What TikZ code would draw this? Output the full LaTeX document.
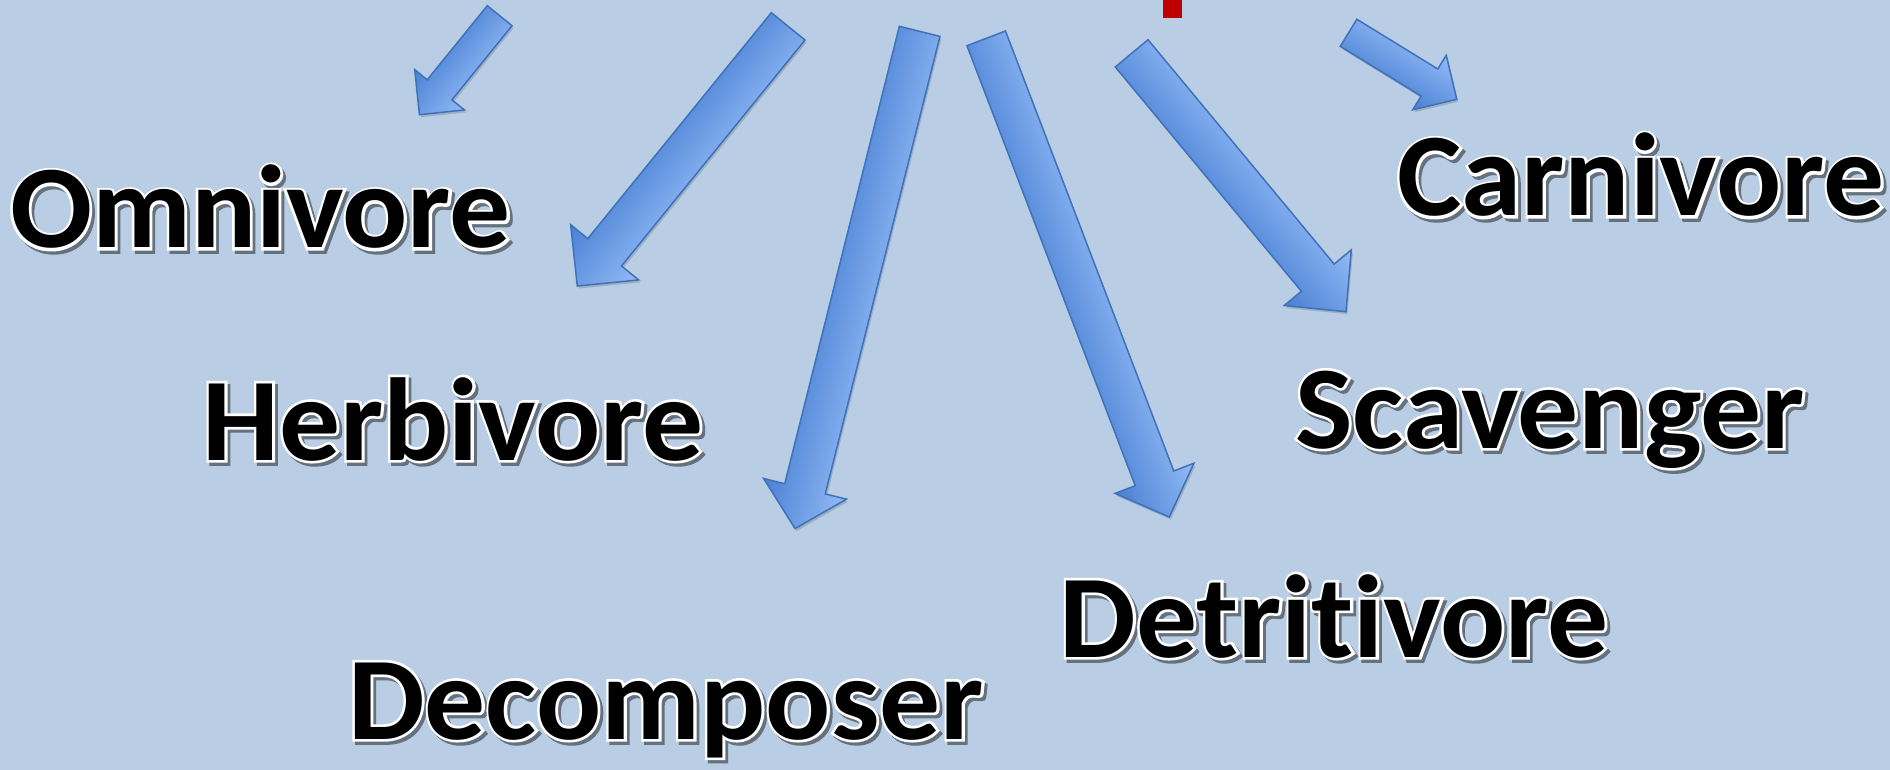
\documentclass[tikz,border=0pt]{standalone}
\usepackage{fontspec}
\newfontfamily\lblfont{Carlito Bold}[Ligatures=NoCommon,FakeStretch=1.03]
\newfontfamily\olfont{Carlito Bold}[Ligatures=NoCommon,FakeStretch=1.03,FakeBold=4.5]
\definecolor{bgc}{HTML}{B9CDE5}
\definecolor{arrowdark}{HTML}{4A80D2}
\definecolor{arrowlight}{HTML}{92BAF7}
\definecolor{arrowline}{HTML}{3F72B8}
\definecolor{redc}{HTML}{C00000}
\colorlet{shadowc}{bgc!55!black}
\newcommand\outl[1]{%
  \rlap{\kern1.4pt\raisebox{-1.6pt}{\olfont\color{shadowc}#1}}%
  \rlap{\olfont\color{white}#1}%
  #1}
\newcommand\blockarrow[7]{%
  \begin{scope}[transform canvas={shift={(#1+1.5,#2+2.5)},rotate=#3}]
    \fill[black,opacity=.15] (0,#5) -- (#4-#7,#5) -- (#4-#7,#6) -- (#4,0) -- (#4-#7,-#6) -- (#4-#7,-#5) -- (0,-#5) -- cycle;
  \end{scope}
  \begin{scope}[transform canvas={shift={(#1,#2)},rotate=#3}]
    \draw[arrowbox] (0,#5) -- (#4-#7,#5) -- (#4-#7,#6) -- (#4,0) -- (#4-#7,-#6) -- (#4-#7,-#5) -- (0,-#5) -- cycle;
  \end{scope}}
\tikzset{
  arrowbox/.style={draw=arrowline, line width=0.75pt, line join=miter, bottom color=arrowdark, top color=arrowlight},
  lbl/.style={anchor=base, inner sep=0pt, font=\lblfont\fontsize{59}{60}\selectfont, text=black}
}
\begin{document}
\begin{tikzpicture}[x=0.5pt,y=-0.5pt]
\useasboundingbox (0,0) rectangle (1890,770);
\fill[bgc] (0,0) rectangle (1890,770);
\fill[redc] (1163,0) rectangle (1182,18);
% block arrows: tail x, tail y, angle, length, shaft half width, head half width, head length
\blockarrow{499.65}{15.7}{-129.03}{127.4}{15.9}{32}{32}
\blockarrow{788.15}{26.35}{-129.08}{334.5}{21.7}{43.8}{43.4}
\blockarrow{919.65}{31.35}{-104.07}{512.6}{20.9}{42.7}{41}
\blockarrow{986.2}{38.35}{-69.07}{512.5}{20.6}{42.2}{41.4}
\blockarrow{1131.65}{53.35}{-50.32}{335.7}{21.3}{43.6}{44.2}
\blockarrow{1348.55}{32.8}{-31.59}{127}{15.9}{32}{32}
\node[lbl] (omnivore) at (260.5,248) {\outl{Omnivore}};
\node[lbl] (herbivore) at (453,460) {\outl{Herbivore}};
\node[lbl] (carnivore) at (1641,216) {\outl{Carnivore}};
\node[lbl] (scavenger) at (1550,448) {\outl{Scavenger}};
\node[lbl] (detritivore) at (1334,657) {\outl{Detritivore}};
\node[lbl] (decomposer) at (666,739) {\outl{Decomposer}};
\end{tikzpicture}
\end{document}
